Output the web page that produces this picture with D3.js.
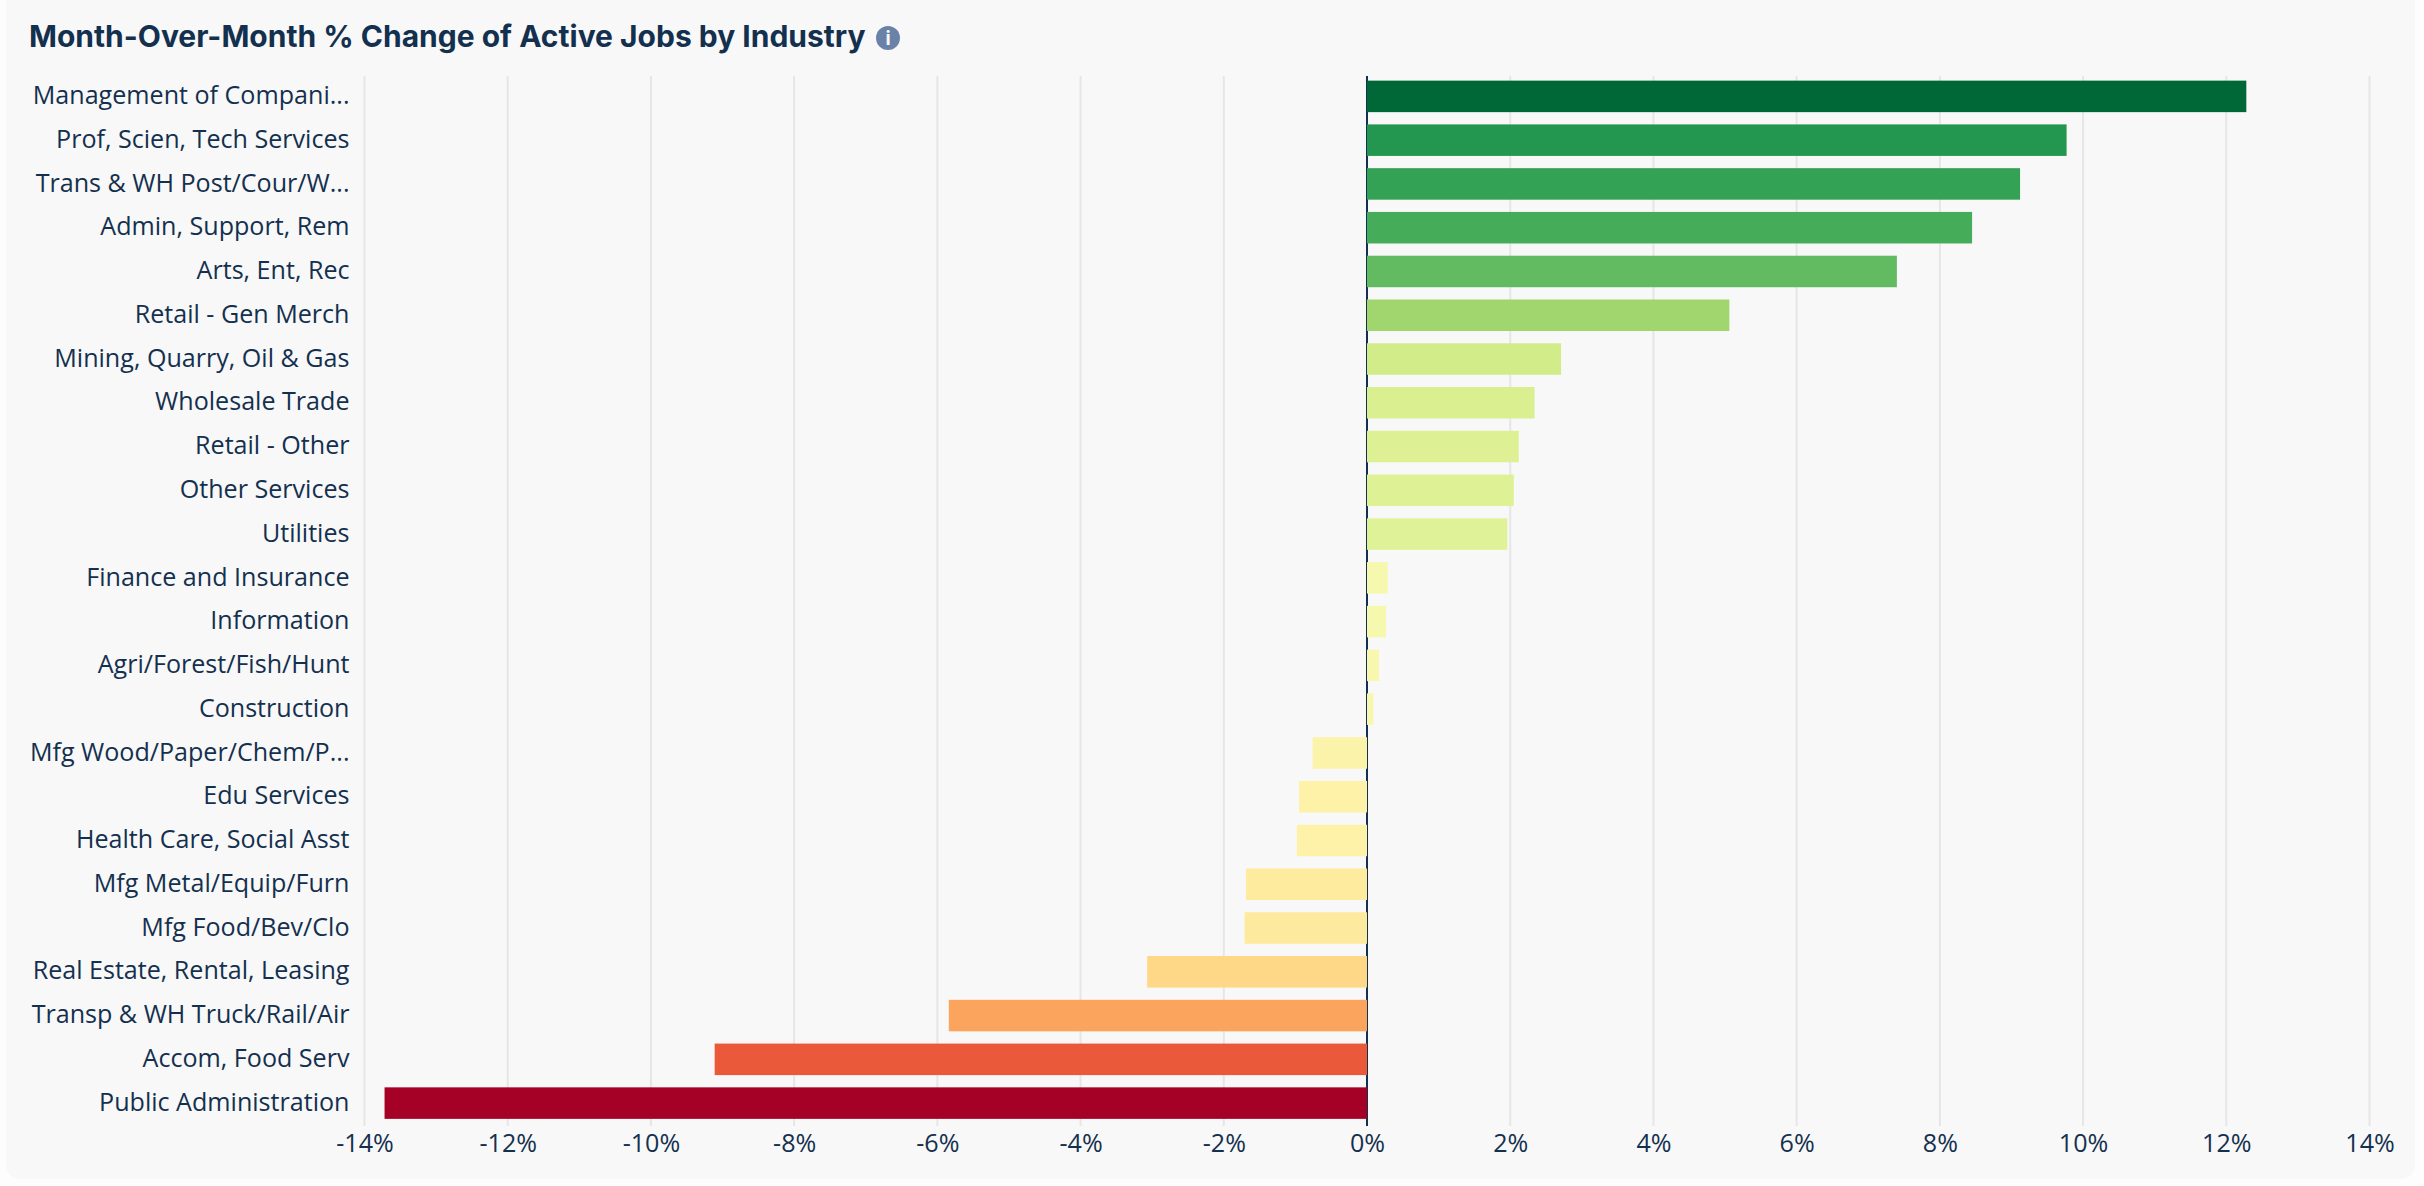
<!DOCTYPE html>
<html>
<head>
<meta charset="utf-8">
<script src="https://cdn.jsdelivr.net/npm/d3@7"></script>
<style>
  html, body { margin: 0; padding: 0; background: #fdfdfd; }
  svg { display: block; }
  .axis text { font-family: "Open Sans", sans-serif; font-size: 25.1px; fill: #14304f; }
</style>
</head>
<body>
<svg id="chart" width="2424" height="1186"></svg>
<script>
var industries = ["Management of Compani...", "Prof, Scien, Tech Services", "Trans & WH Post/Cour/W...",
    "Admin, Support, Rem", "Arts, Ent, Rec", "Retail - Gen Merch", "Mining, Quarry, Oil & Gas",
    "Wholesale Trade", "Retail - Other", "Other Services", "Utilities", "Finance and Insurance",
    "Information", "Agri/Forest/Fish/Hunt", "Construction", "Mfg Wood/Paper/Chem/P...", "Edu Services",
    "Health Care, Social Asst", "Mfg Metal/Equip/Furn", "Mfg Food/Bev/Clo", "Real Estate, Rental, Leasing",
    "Transp & WH Truck/Rail/Air", "Accom, Food Serv", "Public Administration"];
var changes = [12.28, 9.77, 9.12, 8.45, 7.40, 5.06, 2.71, 2.34, 2.12, 2.05, 1.96, 0.29,
    0.265, 0.167, 0.09, -0.76, -0.95, -0.98, -1.69, -1.71, -3.07, -5.84, -9.11, -13.72];
var xTicks = [-14, -12, -10, -8, -6, -4, -2, 0, 2, 4, 6, 8, 10, 12, 14];

var svg = d3.select("#chart");

var x = d3.scaleLinear().domain([-14, 14]).range([364.5, 2369.5]);
var y = d3.scaleBand().domain(industries).range([74.5, 1125]).paddingInner(0.28).paddingOuter(0.14);
var color = d3.scaleDiverging(d3.interpolateRdYlGn).domain([-13.72, 0, 12.28]);

// card behind the chart
svg.append("rect")
    .attr("x", 6).attr("y", -20)
    .attr("width", 2409).attr("height", 1199)
    .attr("rx", 14)
    .attr("fill", "#f8f8f8");

// title and info icon
svg.append("text")
    .attr("x", 29).attr("y", 47)
    .attr("font-family", "Inter, sans-serif")
    .attr("font-weight", 700)
    .attr("font-size", 30)
    .attr("fill", "#14304f")
    .text("Month-Over-Month % Change of Active Jobs by Industry");
svg.append("circle")
    .attr("cx", 888).attr("cy", 38).attr("r", 12)
    .attr("fill", "#6b82a8");
svg.append("text")
    .attr("x", 888).attr("y", 45)
    .attr("text-anchor", "middle")
    .attr("font-family", "Inter, sans-serif")
    .attr("font-weight", 700)
    .attr("font-size", 19)
    .attr("fill", "#f8f8f8")
    .text("i");

// gridlines
svg.append("g").selectAll("line")
    .data(xTicks.filter(function(d) { return d !== 0; }))
    .enter().append("line")
        .attr("x1", function(d) { return x(d); })
        .attr("x2", function(d) { return x(d); })
        .attr("y1", 76)
        .attr("y2", 1126)
        .attr("stroke", "#e6e6e6")
        .attr("stroke-width", 2);

// zero line sits under the bars
svg.append("line")
    .attr("x1", x(0)).attr("x2", x(0))
    .attr("y1", 76).attr("y2", 1126)
    .attr("stroke", "#14304f")
    .attr("stroke-width", 2);

svg.append("g").selectAll("rect")
    .data(changes)
    .enter().append("rect")
        .attr("x", function(d) { return d < 0 ? x(d) : x(0); })
        .attr("y", function(d, i) { return y(industries[i]); })
        .attr("width", function(d) { return Math.abs(x(d) - x(0)); })
        .attr("height", y.bandwidth())
        .attr("fill", function(d) { return color(d); });

var yAxis = svg.append("g")
    .attr("class", "axis")
    .attr("transform", "translate(364.5,-0.4)")
    .call(d3.axisLeft(y).tickSize(0).tickPadding(15));
yAxis.select(".domain").remove();

var xAxis = svg.append("g")
    .attr("class", "axis")
    .attr("transform", "translate(0,1126)")
    .call(d3.axisBottom(x).tickValues(xTicks).tickSize(0).tickPadding(8)
        .tickFormat(function(d) { return d + "%"; }));
xAxis.select(".domain").remove();
</script>
</body>
</html>
